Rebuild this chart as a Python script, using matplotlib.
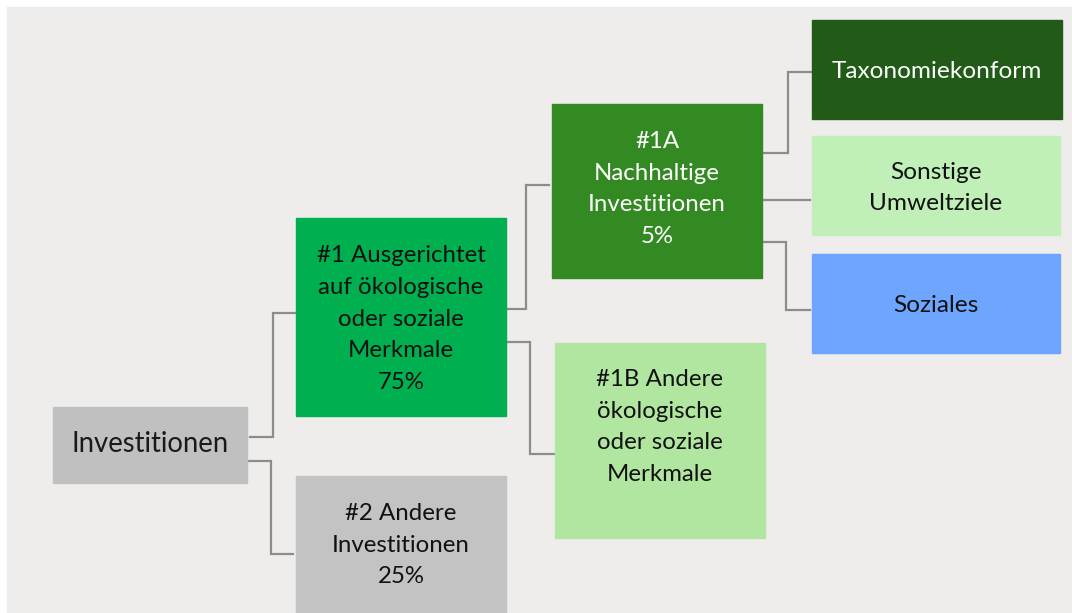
import matplotlib
matplotlib.use("Agg")
import matplotlib.pyplot as plt
from matplotlib.patches import Rectangle

plt.rcParams['font.family'] = ['Lato', 'DejaVu Sans']

# categories of the investment tree and their shares
names = ["Investitionen",
         "#1 Ausgerichtet\nauf ökologische\noder soziale\nMerkmale",
         "#2 Andere\nInvestitionen",
         "#1A\nNachhaltige\nInvestitionen",
         "#1B Andere\nökologische\noder soziale\nMerkmale",
         "Taxonomiekonform",
         "Sonstige\nUmweltziele",
         "Soziales"]
shares = [None, "75%", "25%", "5%", None, None, None, None]

# layout (pixel boxes: x0, y0, x1, y1), text centre y, colours
boxes = [(53, 407, 247, 483),
         (296, 218, 506, 416),
         (296, 476, 506, 613),
         (552, 104, 762, 278),
         (555, 343, 765, 538),
         (812, 20, 1062, 119),
         (812, 136, 1060, 235),
         (812, 254, 1060, 353)]
text_y = [444, 319, 545, 189, 427, 71, 188, 306]
fills = ["#c0c0c0", "#00b050", "#c3c3c3", "#338a22", "#b1e6a0",
         "#225a18", "#c0f0b8", "#6ea6ff"]
txtcol = ["#1a1a1a", "#111111", "#111111", "white", "#111111",
          "white", "#111111", "#111111"]
sizes = [19.8, 17.3, 17.3, 17.3, 17.3, 17.6, 17.6, 17.6]

# elbow connectors: (x_start, y_start, x_mid, y_end, x_end)
links = [(250, 437, 273, 313, 296),
         (248, 461, 271, 554, 293),
         (503, 309, 526, 185, 549),
         (506, 342, 530, 454, 555),
         (764, 153, 788, 72, 812),
         (763, 200, 786, 200, 810),
         (763, 242, 786, 310, 810)]

fig = plt.figure(figsize=(10.72, 6.13), dpi=100)
ax = fig.add_axes([0, 0, 1, 1])
ax.set_xlim(0, 1072)
ax.set_ylim(613, 0)
ax.axis('off')

ax.add_patch(Rectangle((7, 7), 1072 - 7, 613 - 7, color="#eeedeb", zorder=0))

for x0, y0, xm, y1, x1 in links:
    ax.plot([x0, xm, xm, x1], [y0, y0, y1, y1], color="#8c8c8c", lw=1.6,
            solid_joinstyle='miter', zorder=1)

for i, (x0, y0, x1, y1) in enumerate(boxes):
    ax.add_patch(Rectangle((x0, y0), x1 - x0, y1 - y0, color=fills[i], zorder=2))
    label = names[i] if shares[i] is None else names[i] + "\n" + shares[i]
    ax.text((x0 + x1) / 2, text_y[i], label, ha='center', va='center',
            fontsize=sizes[i], color=txtcol[i], linespacing=1.64, zorder=3)

fig.savefig("out.png", dpi=100)
